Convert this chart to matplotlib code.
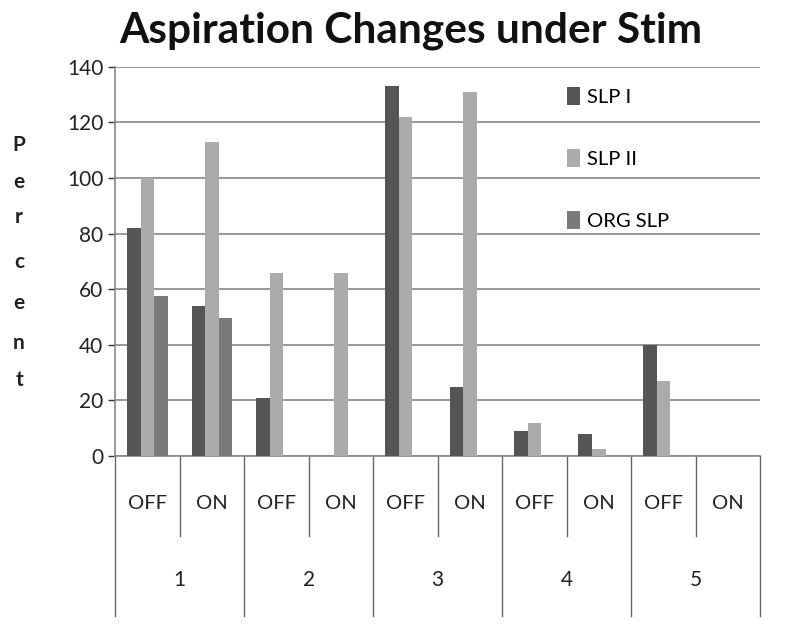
import matplotlib
matplotlib.use("Agg")
import matplotlib.pyplot as plt
import matplotlib.transforms as mtransforms
import numpy as np

plt.rcParams['font.family'] = ['Lato', 'DejaVu Sans']

groups = ["1", "2", "3", "4", "5"]
states = ["OFF", "ON"]
series_names = ["SLP I", "SLP II", "ORG SLP"]
slp1 = [82, 54, 21, 0, 133, 25, 9, 8, 40, 0]
slp2 = [100, 113, 66, 66, 122, 131, 12, 2.5, 27, 0]
org = [57.5, 49.5, 0, 0, 0, 0, 0, 0, 0, 0]
colors = ["#555555", "#ababab", "#7a7a7a"]

fig = plt.figure(figsize=(8, 6.36), dpi=100)
ax = fig.add_axes([0.144, 0.283, 0.806, 0.612])

n = len(slp1)
x = np.arange(n)
w = 0.21
for i, (vals, name, c) in enumerate(zip([slp1, slp2, org], series_names, colors)):
    ax.bar(x + (i - 1) * w, vals, width=w, color=c, label=name, zorder=3)

ax.set_xlim(-0.5, n - 0.5)
ax.set_ylim(0, 140)
ax.set_yticks(np.arange(0, 141, 20))
ax.tick_params(axis='y', labelsize=15, colors='#333333', length=5, width=1, direction='out')
for lab in ax.get_yticklabels():
    lab.set_color('#222222')
ax.yaxis.grid(True, color='#888888', linewidth=1.2, zorder=0)
ax.set_axisbelow(True)
for s in ['top', 'right']:
    ax.spines[s].set_visible(False)
ax.spines['left'].set_color('#888888')
ax.spines['bottom'].set_color('#888888')
ax.spines['left'].set_linewidth(1.2)
ax.spines['bottom'].set_linewidth(1.2)
ax.set_xticks([])

trans = mtransforms.blended_transform_factory(ax.transData, ax.transAxes)
# category boundaries
for b in np.arange(-0.5, n, 1.0):
    gi = b + 0.5
    if gi % 2 == 0:
        ax.plot([b, b], [0, -0.412], transform=trans, color='#666666', lw=1, clip_on=False)
    else:
        ax.plot([b, b], [0, -0.206], transform=trans, color='#666666', lw=1, clip_on=False)
for k in range(n):
    ax.text(k, -0.121, states[k % 2], transform=trans, ha='center', va='center',
            fontsize=14.5, color='#222222')
for g, name in enumerate(groups):
    ax.text(2 * g + 0.5, -0.319, name, transform=trans, ha='center', va='center',
            fontsize=15, color='#222222')

ax.legend(loc='upper left', bbox_to_anchor=(0.67, 1.0), frameon=False, fontsize=14.5,
          labelspacing=2.15, handlelength=0.65, handleheight=1.0, handletextpad=0.35,
          borderaxespad=0.6)

fig.text(0.514, 0.951, "Aspiration Changes under Stim", ha='center', va='center',
         fontsize=30.5, fontweight='bold', color='#111111')

letters = "Percent"
ys = [145, 182, 217, 262, 303, 343, 380]
for ch, yp in zip(letters, ys):
    fig.text(19 / 800, 1 - yp / 636, ch, ha='center', va='center', fontsize=15,
             fontweight='bold', color='#222222')

fig.savefig("out.png", dpi=100, facecolor='white')
